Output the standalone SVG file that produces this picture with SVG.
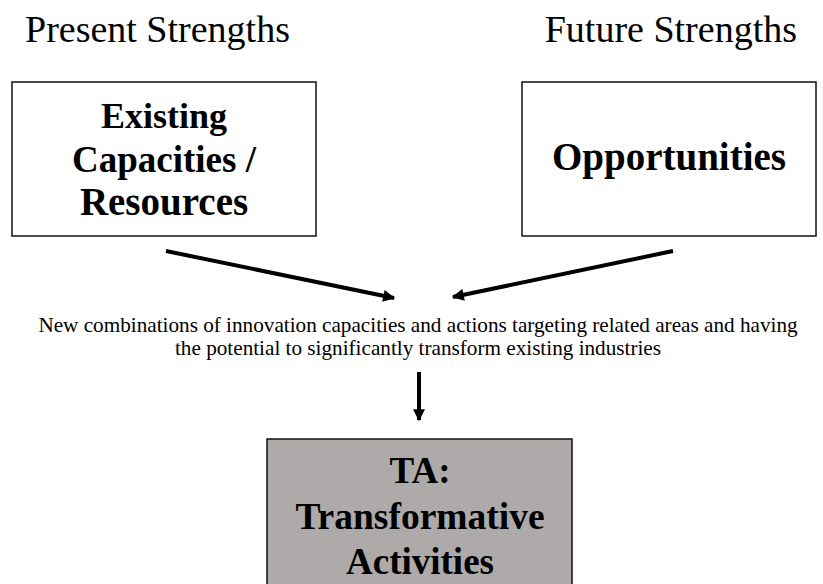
<svg xmlns="http://www.w3.org/2000/svg" width="823" height="584" viewBox="0 0 823 584">
<style>
text{fill:#000}
.title{font-size:38px}
.b{font-size:37px;font-weight:bold;text-anchor:middle}
.m{font-size:21.2px;text-anchor:middle}
.box{stroke:#111;stroke-width:1.5}
.c{stroke:#000;stroke-width:4;fill:none}
</style>
<defs>
<marker id="ah" viewBox="0 0 10 10" refX="9" refY="5" markerWidth="3.5" markerHeight="3" orient="auto" markerUnits="strokeWidth">
<path d="M0,0 L10,5 L0,10 z" fill="#000"/>
</marker>
</defs>
<rect width="823" height="584" fill="#fff"/>
<g font-family="Liberation Serif, Times New Roman, serif">
<text class="title" x="25" y="42">Present Strengths</text>
<text class="title" x="797" y="42" text-anchor="end">Future Strengths</text>
<g id="existing">
<rect class="box" x="12" y="82" width="304" height="154" fill="#fff"/>
<text class="b" x="164" y="128" style="font-size:36px">Existing</text>
<text class="b" x="164" y="172">Capacities /</text>
<text class="b" x="164" y="215" style="font-size:39px">Resources</text>
</g>
<g id="opportunities">
<rect class="box" x="522" y="82" width="294" height="154" fill="#fff"/>
<text class="b" x="669" y="170" style="font-size:39px">Opportunities</text>
</g>
<g id="combinations">
<text class="m" x="418" y="332">New combinations of innovation capacities and actions targeting related areas and having</text>
<text class="m" x="418" y="355">the potential to significantly transform existing industries</text>
</g>
<g id="ta">
<rect class="box" x="267" y="439" width="305" height="160" fill="#aeaaaa"/>
<text class="b" x="420" y="483">TA:</text>
<text class="b" x="420" y="529" style="font-size:37.5px">Transformative</text>
<text class="b" x="420" y="574">Activities</text>
</g>
</g>
<g id="connectors">
<line class="c" x1="166" y1="251" x2="394" y2="298" marker-end="url(#ah)"/>
<line class="c" x1="673" y1="251" x2="453" y2="297" marker-end="url(#ah)"/>
<line class="c" x1="419" y1="372" x2="419" y2="420" marker-end="url(#ah)"/>
</g>
</svg>
